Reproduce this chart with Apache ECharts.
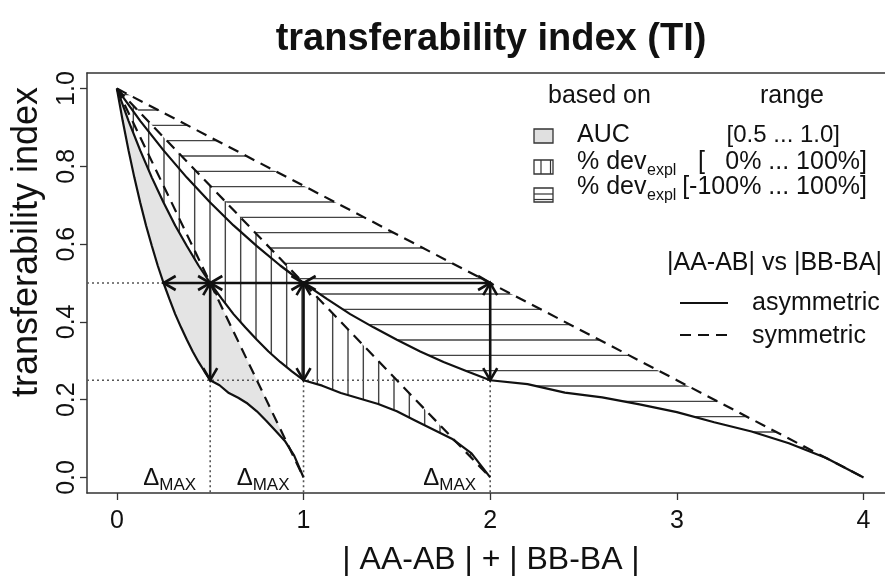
<!DOCTYPE html>
<html><head><meta charset="utf-8">
<script src="https://cdn.jsdelivr.net/npm/echarts@6/dist/echarts.min.js"></script>
<style>html,body{margin:0;padding:0;background:#fff}#c{width:885px;height:577px}</style>
</head><body><div id="c"></div>
<script>
// ---- data ----
const xTicks = [0, 1, 2, 3, 4];
const yTicks = [0, 0.2, 0.4, 0.6, 0.8, 1.0];
const deltaMax = [0.5, 1, 2];

// asymmetric TI curves (solid)
const asym1 = [[0,1],[0.03125,0.917],[0.0625,0.841],[0.09375,0.771],[0.125,0.707],[0.15625,0.648],[0.1875,0.595],[0.21875,0.545],[0.25,0.5],[0.28125,0.459],[0.3125,0.42],[0.34375,0.386],[0.375,0.354],[0.40625,0.324],[0.4375,0.297],[0.46875,0.273],[0.5,0.25],[0.55,0.237],[0.6,0.217],[0.65,0.205],[0.7,0.19],[0.75,0.17],[0.8,0.146],[0.85,0.12],[0.9,0.094],[0.95,0.056],[1,0]];
const asym2 = [[0,1],[0.0625,0.917],[0.125,0.841],[0.1875,0.771],[0.25,0.707],[0.3125,0.648],[0.375,0.595],[0.4375,0.545],[0.5,0.5],[0.5625,0.459],[0.625,0.42],[0.6875,0.386],[0.75,0.354],[0.8125,0.324],[0.875,0.297],[0.9375,0.273],[1,0.25],[1.1,0.236],[1.2,0.217],[1.3,0.203],[1.4,0.189],[1.5,0.17],[1.6,0.146],[1.7,0.122],[1.8,0.098],[1.9,0.062],[2,0]];
const asym4 = [[0,1],[0.125,0.917],[0.25,0.841],[0.375,0.771],[0.5,0.707],[0.625,0.648],[0.75,0.595],[0.875,0.545],[1,0.5],[1.125,0.459],[1.25,0.42],[1.375,0.386],[1.5,0.354],[1.625,0.324],[1.75,0.297],[1.875,0.273],[2,0.25],[2.2,0.24],[2.4,0.218],[2.6,0.206],[2.8,0.188],[3,0.168],[3.2,0.142],[3.4,0.118],[3.6,0.088],[3.8,0.05],[4,0]];
// symmetric TI curves (dashed)
const sym1 = [[0,1],[0.25,0.75],[0.5,0.5],[0.75,0.25],[1,0]];
const sym2 = [[0,1],[0.5,0.75],[1,0.5],[1.5,0.25],[2,0]];
const sym4 = [[0,1],[1,0.75],[2,0.5],[3,0.25],[4,0]];

// arrows and dotted guides [x1, y1, x2, y2]
const arrows = [[0.25,0.5,0.5,0.5],[0.5,0.5,1,0.5],[1,0.5,2,0.5],[0.5,0.5,0.5,0.25],[1,0.5,1,0.25],[2,0.5,2,0.25]];
const guides = [[-0.16,0.5,0.25,0.5],[-0.16,0.25,2,0.25],[0.5,0.25,0.5,-0.04],[1,0.25,1,-0.04],[2,0.25,2,-0.04]];

// ---- rendering ----
const FONT = '"Liberation Sans", Arial, Helvetica, sans-serif';
const INK = '#111';
const X_MIN = -0.16, X_MAX = 4.115, Y_MIN = -0.04, Y_MAX = 1.04;

function hatch(dir) {
  const c = document.createElement('canvas');
  c.width = 46; c.height = 46;
  const g = c.getContext('2d');
  g.fillStyle = '#fff'; g.fillRect(0, 0, 46, 46);
  g.strokeStyle = '#444'; g.lineWidth = 1.4;
  g.beginPath();
  if (dir === 'v') [10.67, 26, 41.33].forEach(x => { g.moveTo(x, 0); g.lineTo(x, 46); });
  else [2.67, 18, 33.33].forEach(y => { g.moveTo(0, y); g.lineTo(46, y); });
  g.stroke();
  return c;
}
const vPat = hatch('v'), hPat = hatch('h');

function polySeries(lower, upper, fill) {
  return {
    type: 'custom', silent: true, data: [[0, 0]],
    renderItem: function (params, api) {
      const pts = lower.concat(upper.slice().reverse()).map(p => api.coord(p));
      return { type: 'polygon', shape: { points: pts }, style: { fill: fill, stroke: null } };
    }
  };
}
function lineSeries(d, dashed) {
  return {
    type: 'line', data: d, showSymbol: false, silent: true, smooth: false,
    lineStyle: { color: INK, width: 2.2, type: dashed ? [11, 7] : 'solid' }
  };
}

const chart = echarts.init(document.getElementById('c'), null, { renderer: 'canvas' });
const mctx = document.createElement('canvas').getContext('2d');
const axisLn = { show: true, onZero: false, lineStyle: { color: '#333', width: 1.5 } };

const option = {
  animation: false,
  backgroundColor: '#fff',
  textStyle: { fontFamily: FONT },
  grid: { left: 87, top: 73, right: 0, height: 420, show: false },
  xAxis: [{
    type: 'value', min: X_MIN, max: X_MAX, position: 'bottom',
    axisLine: axisLn, splitLine: { show: false },
    axisTick: { show: true, customValues: xTicks, length: 7, lineStyle: { color: '#333', width: 1.3 } },
    axisLabel: { customValues: xTicks, fontSize: 25, color: INK, margin: 16, fontFamily: FONT }
  }, {
    type: 'value', min: X_MIN, max: X_MAX, position: 'top',
    axisLine: axisLn, splitLine: { show: false }, axisTick: { show: false }, axisLabel: { show: false }
  }],
  yAxis: {
    type: 'value', min: Y_MIN, max: Y_MAX,
    axisLine: axisLn, splitLine: { show: false },
    axisTick: { show: true, customValues: yTicks, length: 7, lineStyle: { color: '#333', width: 1.3 } },
    axisLabel: { customValues: yTicks, fontSize: 25, color: INK, margin: 7, rotate: 90, fontFamily: FONT,
      formatter: v => Number(v).toFixed(1) }
  },
  series: [
    polySeries(asym1, sym1, '#e4e4e4'),
    polySeries(asym4, sym4, { image: hPat, repeat: 'repeat' }),
    polySeries(asym2, sym2, { image: vPat, repeat: 'repeat' }),
    {
      type: 'custom', silent: true, data: guides,
      renderItem: function (params, api) {
        const a = api.coord([api.value(0), api.value(1)]);
        const b = api.coord([api.value(2), api.value(3)]);
        return { type: 'line', shape: { x1: a[0], y1: a[1], x2: b[0], y2: b[1] },
          style: { stroke: '#555', lineWidth: 1.6, lineDash: [2, 3] } };
      }
    },
    lineSeries(asym1, false), lineSeries(sym1, true),
    lineSeries(asym2, false), lineSeries(sym2, true),
    lineSeries(asym4, false), lineSeries(sym4, true),
    {
      type: 'custom', silent: true, data: arrows,
      renderItem: function (params, api) {
        const a = api.coord([api.value(0), api.value(1)]);
        const b = api.coord([api.value(2), api.value(3)]);
        const dx = b[0] - a[0], dy = b[1] - a[1], len = Math.hypot(dx, dy);
        const ux = dx / len, uy = dy / len, L = 14, ang = Math.PI / 6;
        function head(tip, sx, sy) {
          const c = Math.cos(ang), s = Math.sin(ang);
          const r1 = [sx * c - sy * s, sx * s + sy * c];
          const r2 = [sx * c + sy * s, -sx * s + sy * c];
          return [[tip[0] + L * r1[0], tip[1] + L * r1[1]], tip, [tip[0] + L * r2[0], tip[1] + L * r2[1]]];
        }
        const st = { stroke: INK, lineWidth: 2.6, fill: null };
        return { type: 'group', children: [
          { type: 'line', shape: { x1: a[0], y1: a[1], x2: b[0], y2: b[1] }, style: st },
          { type: 'polyline', shape: { points: head(b, -ux, -uy) }, style: st },
          { type: 'polyline', shape: { points: head(a, ux, uy) }, style: st }
        ] };
      }
    },
    {
      type: 'custom', silent: true, data: deltaMax.map(d => [d, 0]),
      renderItem: function (params, api) {
        const p = api.coord([api.value(0), api.value(1)]);
        mctx.font = '17px ' + FONT;
        const wMax = mctx.measureText('MAX').width;
        const right = p[0] - 14;
        return { type: 'group', children: [
          { type: 'text', x: right, y: p[1] + 8, style: { text: 'MAX', font: '17px ' + FONT, fill: INK, align: 'right', verticalAlign: 'middle' } },
          { type: 'text', x: right - wMax, y: p[1] + 0.5, style: { text: 'Δ', font: '24px ' + FONT, fill: INK, align: 'right', verticalAlign: 'middle' } }
        ] };
      }
    }
  ],
  graphic: []
};

function txt(x, y, text, size, opts) {
  opts = opts || {};
  return { type: 'text', x: x, y: y, rotation: opts.rot || 0, silent: true,
    style: { text: text, font: (opts.bold ? 'bold ' : '') + size + 'px ' + FONT, fill: INK,
      align: opts.align || 'left', verticalAlign: 'middle', textAlign: opts.align || 'left', textVerticalAlign: 'middle' } };
}
const G = [];
G.push(txt(491, 40, 'transferability index (TI)', 38, { bold: true, align: 'center' }));
G.push(txt(491, 560, '| AA-AB | + | BB-BA |', 32, { align: 'center' }));
G.push(txt(27, 242, 'transferability index', 36, { align: 'center', rot: Math.PI / 2 }));
// legend: hatching
G.push(txt(548, 96, 'based on', 25));
G.push(txt(760, 96, 'range', 25));
G.push({ type: 'rect', shape: { x: 534, y: 129, width: 19, height: 14 }, style: { fill: '#e0e0e0', stroke: '#333', lineWidth: 1.3 } });
G.push(txt(577, 135, 'AUC', 25));
G.push(txt(840, 135, '[0.5 ... 1.0]', 24, { align: 'right' }));
G.push({ type: 'rect', shape: { x: 534, y: 160, width: 19, height: 14 }, style: { fill: '#fff', stroke: '#333', lineWidth: 1.3 } });
G.push({ type: 'line', shape: { x1: 541, y1: 160, x2: 541, y2: 174 }, style: { stroke: '#333', lineWidth: 1.2 } });
G.push({ type: 'line', shape: { x1: 550.5, y1: 160, x2: 550.5, y2: 174 }, style: { stroke: '#333', lineWidth: 1.2 } });
G.push(txt(577, 162, '% dev', 25));
G.push(txt(647, 171, 'expl', 16));
G.push(txt(698, 162, '[', 25));
G.push(txt(867, 162, '0% ... 100%]', 25, { align: 'right' }));
G.push({ type: 'rect', shape: { x: 534, y: 188, width: 19, height: 14 }, style: { fill: '#fff', stroke: '#333', lineWidth: 1.3 } });
G.push({ type: 'line', shape: { x1: 534, y1: 194, x2: 553, y2: 194 }, style: { stroke: '#333', lineWidth: 1.2 } });
G.push({ type: 'line', shape: { x1: 534, y1: 199.5, x2: 553, y2: 199.5 }, style: { stroke: '#333', lineWidth: 1.2 } });
G.push(txt(577, 187, '% dev', 25));
G.push(txt(647, 196, 'expl', 16));
G.push(txt(867, 187, '[-100% ... 100%]', 25, { align: 'right' }));
// legend: line types
G.push(txt(667, 263, '|AA-AB| vs |BB-BA|', 25));
G.push({ type: 'line', shape: { x1: 680, y1: 303, x2: 728, y2: 303 }, style: { stroke: INK, lineWidth: 2.2 } });
G.push(txt(752, 303, 'asymmetric', 25));
G.push({ type: 'line', shape: { x1: 680, y1: 335, x2: 728, y2: 335 }, style: { stroke: INK, lineWidth: 2.2, lineDash: [11, 7] } });
G.push(txt(752, 336, 'symmetric', 25));
option.graphic = G;

chart.setOption(option);
</script>
</body></html>
